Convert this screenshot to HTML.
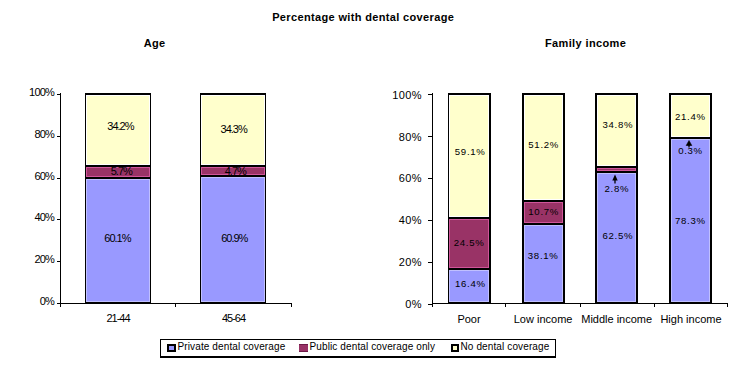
<!DOCTYPE html>
<html><head><meta charset="utf-8"><style>
html,body{margin:0;padding:0;background:#fff}
body{width:730px;height:373px;position:relative;overflow:hidden;font-family:"Liberation Sans",sans-serif;color:#000}
body>div{position:absolute}
.t{white-space:nowrap;line-height:12px}
.b{font-weight:bold}
</style></head><body>
<div class="t b" style="left:263.2px;width:200px;top:11px;font-size:11px;text-align:center;letter-spacing:0.35px">Percentage with dental coverage</div>
<div class="t b" style="left:54.5px;width:200px;top:37px;font-size:11px;text-align:center;letter-spacing:0.3px">Age</div>
<div class="t b" style="left:485.6px;width:200px;top:37px;font-size:11px;text-align:center;letter-spacing:0.38px">Family income</div>
<div style="left:60px;top:93px;width:1px;height:211px;background:#000;"></div>
<div style="left:57px;top:94px;width:3px;height:1px;background:#000;"></div>
<div style="left:57px;top:136px;width:3px;height:1px;background:#000;"></div>
<div style="left:57px;top:178px;width:3px;height:1px;background:#000;"></div>
<div style="left:57px;top:219px;width:3px;height:1px;background:#000;"></div>
<div style="left:57px;top:261px;width:3px;height:1px;background:#000;"></div>
<div style="left:57px;top:303px;width:3px;height:1px;background:#000;"></div>
<div style="left:60px;top:303px;width:232px;height:1px;background:#000;"></div>
<div style="left:60px;top:303px;width:1px;height:4px;background:#000;"></div>
<div style="left:175px;top:303px;width:1px;height:4px;background:#000;"></div>
<div style="left:291px;top:303px;width:1px;height:4px;background:#000;"></div>
<div style="left:85px;top:93px;width:66px;height:211px;background:#000;"></div>
<div style="left:86px;top:179px;width:64px;height:123px;background:#c0c0ff;"></div>
<div style="left:87px;top:180px;width:62px;height:121px;background:#9999ff;"></div>
<div style="left:86px;top:167px;width:64px;height:10px;background:#d0559a;"></div>
<div style="left:87px;top:168px;width:62px;height:8px;background:#993366;"></div>
<div style="left:86px;top:95px;width:64px;height:70px;background:#ffffff;"></div>
<div style="left:87px;top:96px;width:62px;height:68px;background:#ffffcc;"></div>
<div style="left:200px;top:93px;width:66px;height:211px;background:#000;"></div>
<div style="left:201px;top:177px;width:64px;height:125px;background:#c0c0ff;"></div>
<div style="left:202px;top:178px;width:62px;height:123px;background:#9999ff;"></div>
<div style="left:201px;top:167px;width:64px;height:8px;background:#d0559a;"></div>
<div style="left:202px;top:168px;width:62px;height:6px;background:#993366;"></div>
<div style="left:201px;top:95px;width:64px;height:70px;background:#ffffff;"></div>
<div style="left:202px;top:96px;width:62px;height:68px;background:#ffffcc;"></div>
<div class="t n" style="left:-146px;width:200px;top:86px;font-size:11px;text-align:right;letter-spacing:-0.8px">100%</div>
<div class="t n" style="left:-146px;width:200px;top:128px;font-size:11px;text-align:right;letter-spacing:-0.8px">80%</div>
<div class="t n" style="left:-146px;width:200px;top:170px;font-size:11px;text-align:right;letter-spacing:-0.8px">60%</div>
<div class="t n" style="left:-146px;width:200px;top:211px;font-size:11px;text-align:right;letter-spacing:-0.8px">40%</div>
<div class="t n" style="left:-146px;width:200px;top:253px;font-size:11px;text-align:right;letter-spacing:-0.8px">20%</div>
<div class="t n" style="left:-146px;width:200px;top:295px;font-size:11px;text-align:right;letter-spacing:-0.8px">0%</div>
<div class="t n" style="left:17.400000000000006px;width:200px;top:232px;font-size:11px;text-align:center;letter-spacing:-1px">60.1%</div>
<div class="t n" style="left:21.299999999999997px;width:200px;top:165px;font-size:11px;text-align:center;letter-spacing:-1px">5.7%</div>
<div class="t n" style="left:20.400000000000006px;width:200px;top:120px;font-size:11px;text-align:center;letter-spacing:-1px">34.2%</div>
<div class="t n" style="left:134.3px;width:200px;top:232px;font-size:11px;text-align:center;letter-spacing:-1px">60.9%</div>
<div class="t n" style="left:135.3px;width:200px;top:165px;font-size:11px;text-align:center;letter-spacing:-1px">4.7%</div>
<div class="t n" style="left:133.7px;width:200px;top:123px;font-size:11px;text-align:center;letter-spacing:-1px">34.3%</div>
<div class="t n" style="left:18px;width:200px;top:312px;font-size:11px;text-align:center;letter-spacing:-1px">21-44</div>
<div class="t n" style="left:133.5px;width:200px;top:312px;font-size:11px;text-align:center;letter-spacing:-1px">45-64</div>
<div style="left:432px;top:93px;width:1px;height:211px;background:#000;"></div>
<div style="left:428px;top:94px;width:4px;height:1px;background:#000;"></div>
<div style="left:428px;top:136px;width:4px;height:1px;background:#000;"></div>
<div style="left:428px;top:178px;width:4px;height:1px;background:#000;"></div>
<div style="left:428px;top:220px;width:4px;height:1px;background:#000;"></div>
<div style="left:428px;top:262px;width:4px;height:1px;background:#000;"></div>
<div style="left:428px;top:304px;width:4px;height:1px;background:#000;"></div>
<div style="left:432px;top:303px;width:296px;height:1px;background:#000;"></div>
<div style="left:432px;top:303px;width:1px;height:4px;background:#000;"></div>
<div style="left:505px;top:303px;width:1px;height:4px;background:#000;"></div>
<div style="left:580px;top:303px;width:1px;height:4px;background:#000;"></div>
<div style="left:654px;top:303px;width:1px;height:4px;background:#000;"></div>
<div style="left:727px;top:303px;width:1px;height:4px;background:#000;"></div>
<div style="left:448px;top:93px;width:43px;height:211px;background:#000;"></div>
<div style="left:449px;top:270px;width:40px;height:32px;background:#c0c0ff;"></div>
<div style="left:450px;top:271px;width:38px;height:30px;background:#9999ff;"></div>
<div style="left:449px;top:219px;width:40px;height:49px;background:#d0559a;"></div>
<div style="left:450px;top:220px;width:38px;height:47px;background:#993366;"></div>
<div style="left:449px;top:95px;width:40px;height:122px;background:#ffffff;"></div>
<div style="left:450px;top:96px;width:38px;height:120px;background:#ffffcc;"></div>
<div style="left:522px;top:93px;width:43px;height:211px;background:#000;"></div>
<div style="left:524px;top:225px;width:39px;height:77px;background:#c0c0ff;"></div>
<div style="left:525px;top:226px;width:37px;height:75px;background:#9999ff;"></div>
<div style="left:524px;top:202px;width:39px;height:21px;background:#d0559a;"></div>
<div style="left:525px;top:203px;width:37px;height:19px;background:#993366;"></div>
<div style="left:524px;top:95px;width:39px;height:105px;background:#ffffff;"></div>
<div style="left:525px;top:96px;width:37px;height:103px;background:#ffffcc;"></div>
<div style="left:595px;top:93px;width:43px;height:211px;background:#000;"></div>
<div style="left:597px;top:173px;width:39px;height:129px;background:#c0c0ff;"></div>
<div style="left:598px;top:174px;width:37px;height:127px;background:#9999ff;"></div>
<div style="left:597px;top:168px;width:39px;height:3px;background:#d0559a;"></div>
<div style="left:598px;top:169px;width:37px;height:1px;background:#993366;"></div>
<div style="left:597px;top:95px;width:39px;height:71px;background:#ffffff;"></div>
<div style="left:598px;top:96px;width:37px;height:69px;background:#ffffcc;"></div>
<div style="left:669px;top:93px;width:43px;height:211px;background:#000;"></div>
<div style="left:671px;top:139px;width:39px;height:163px;background:#c0c0ff;"></div>
<div style="left:672px;top:140px;width:37px;height:161px;background:#9999ff;"></div>
<div style="left:671px;top:95px;width:39px;height:42px;background:#ffffff;"></div>
<div style="left:672px;top:96px;width:37px;height:40px;background:#ffffcc;"></div>
<div class="t n" style="left:222px;width:200px;top:89px;font-size:11px;text-align:right;letter-spacing:0.4px">100%</div>
<div class="t n" style="left:222px;width:200px;top:131px;font-size:11px;text-align:right;letter-spacing:0.4px">80%</div>
<div class="t n" style="left:222px;width:200px;top:172px;font-size:11px;text-align:right;letter-spacing:0.4px">60%</div>
<div class="t n" style="left:222px;width:200px;top:214px;font-size:11px;text-align:right;letter-spacing:0.4px">40%</div>
<div class="t n" style="left:222px;width:200px;top:256px;font-size:11px;text-align:right;letter-spacing:0.4px">20%</div>
<div class="t n" style="left:222px;width:200px;top:298px;font-size:11px;text-align:right;letter-spacing:0.4px">0%</div>
<div class="t n" style="left:370.4px;width:200px;top:278px;font-size:9.6px;text-align:center;letter-spacing:0.7px">16.4%</div>
<div class="t n" style="left:369.09999999999997px;width:200px;top:237px;font-size:9.6px;text-align:center;letter-spacing:0.7px">24.5%</div>
<div class="t n" style="left:370.2px;width:200px;top:146px;font-size:9.6px;text-align:center;letter-spacing:0.7px">59.1%</div>
<div class="t n" style="left:443.19999999999993px;width:200px;top:250px;font-size:9.6px;text-align:center;letter-spacing:0.7px">38.1%</div>
<div class="t n" style="left:443.69999999999993px;width:200px;top:206px;font-size:9.6px;text-align:center;letter-spacing:0.7px">10.7%</div>
<div class="t n" style="left:443.69999999999993px;width:200px;top:139px;font-size:9.6px;text-align:center;letter-spacing:0.7px">51.2%</div>
<div class="t n" style="left:517.9px;width:200px;top:230px;font-size:9.6px;text-align:center;letter-spacing:0.7px">62.5%</div>
<div class="t n" style="left:516.9px;width:200px;top:183px;font-size:9.6px;text-align:center;letter-spacing:0.7px">2.8%</div>
<div class="t n" style="left:517.9px;width:200px;top:119px;font-size:9.6px;text-align:center;letter-spacing:0.7px">34.8%</div>
<div class="t n" style="left:590.4px;width:200px;top:215px;font-size:9.6px;text-align:center;letter-spacing:0.7px">78.3%</div>
<div class="t n" style="left:590.5px;width:200px;top:145px;font-size:9.6px;text-align:center;letter-spacing:0.7px">0.3%</div>
<div class="t n" style="left:590.4px;width:200px;top:111px;font-size:9.6px;text-align:center;letter-spacing:0.7px">21.4%</div>
<div class="t n" style="left:369px;width:200px;top:313px;font-size:11px;text-align:center;">Poor</div>
<div class="t n" style="left:443.1px;width:200px;top:313px;font-size:11px;text-align:center;">Low income</div>
<div class="t n" style="left:516.7px;width:200px;top:313px;font-size:11px;text-align:center;">Middle income</div>
<div class="t n" style="left:591px;width:200px;top:313px;font-size:11px;text-align:center;">High income</div>
<svg style="position:absolute;left:0;top:0" width="730" height="373"><line x1="615" y1="183.5" x2="615" y2="178" stroke="#000" stroke-width="1.3"/><path d="M612.3 180.5 L615 174.5 L617.7 180.5 Z" fill="#000"/><line x1="689" y1="147.5" x2="689" y2="144" stroke="#000" stroke-width="1.3"/><path d="M686.2 145.5 L689 140.5 L691.8 145.5 Z" fill="#000" stroke="#000" stroke-width="0.6" stroke-linejoin="round"/></svg>
<div style="left:160px;top:339px;width:394px;height:16px;border:1px solid #000;border-bottom-width:2px;background:#fff"></div>
<div style="left:167px;top:344px;width:5px;height:4px;border:2px solid #000;background:#9999ff"></div>
<div style="left:299px;top:344px;width:9px;height:6px;border-top:1px solid #6e1a48;border-bottom:1px solid #6e1a48;background:#993366"></div>
<div style="left:451px;top:344px;width:4px;height:4px;border:2px solid #000;background:#ffffcc"></div>
<div class="t n" style="left:177.5px;top:341px;font-size:10px;letter-spacing:0.12px">Private dental coverage</div>
<div class="t n" style="left:309.5px;top:341px;font-size:10px;letter-spacing:0.12px">Public dental coverage only</div>
<div class="t n" style="left:460.5px;top:341px;font-size:10px;letter-spacing:0.12px">No dental coverage</div>
</body></html>
